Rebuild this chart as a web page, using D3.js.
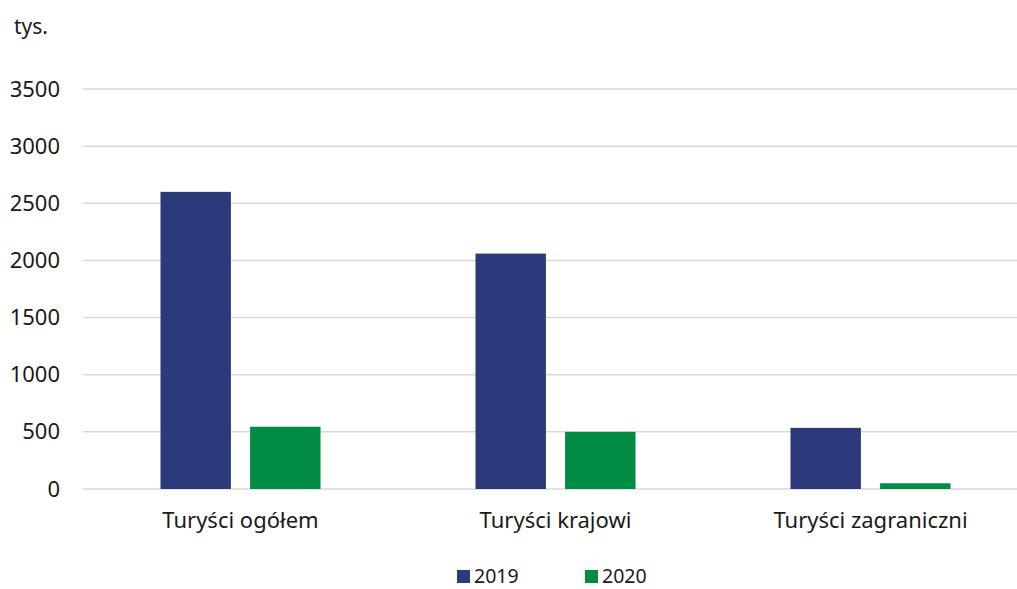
<!doctype html>
<html>
  <head>
    <meta charset="utf-8" />
    <title>Turyści 2019-2020</title>
    <script type="text/javascript" src="https://cdnjs.cloudflare.com/ajax/libs/d3/7.8.5/d3.min.js"></script>
    <style>
      body {
        margin:0;
        background:#fff;
        font-family:"Noto Sans", sans-serif;
      }
      svg text {
        fill:#1a1a1a;
      }
    </style>
  </head>
  <body>
    <div class="chart"></div>
    <script type="text/javascript">

/*chart values (thousands)*/
var categories = ["Turyści ogółem", "Turyści krajowi", "Turyści zagraniczni"];
var years = ["2019", "2020"];
var values_2019 = [2600, 2060, 535];
var values_2020 = [545, 500, 50];
var y_ticks = [0, 500, 1000, 1500, 2000, 2500, 3000, 3500];
var unit_label = "tys.";

var colors = {"2019": "#2c397b", "2020": "#008c44"};

var width = 1017, height = 589;

var svg = d3.select(".chart").append("svg")
  .attr("width", width)
  .attr("height", height);

/*scales*/
var x = d3.scaleBand()
  .domain(categories)
  .range([83, 1028])
  .paddingInner(0.492)
  .paddingOuter(0.246);

var x_inner = d3.scaleBand()
  .domain(years)
  .range([0, x.bandwidth()])
  .paddingInner(0.214);

var y = d3.scaleLinear()
  .domain([0, 3500])
  .range([489, 89]);

/*gridlines*/
svg.append("g")
  .selectAll("line")
  .data(y_ticks)
  .join("line")
  .attr("x1", 83)
  .attr("x2", width)
  .attr("y1", function(d) { return y(d); })
  .attr("y2", function(d) { return y(d); })
  .attr("stroke", "#d9d9d9")
  .attr("stroke-width", 1.5);

/*y axis labels*/
var y_axis = d3.axisLeft(y)
  .tickValues(y_ticks)
  .tickFormat(d3.format("d"))
  .tickSize(0)
  .tickPadding(0);

svg.append("g")
  .attr("transform", "translate(60,0)")
  .call(y_axis)
  .call(function(g) { g.select(".domain").remove(); })
  .selectAll("text")
  .attr("font-family", "Noto Sans")
  .attr("font-size", 22)
  .attr("fill", "#1a1a1a");

svg.append("text")
  .attr("x", 14)
  .attr("y", 34)
  .attr("font-size", 21)
  .text(unit_label);

/*bars*/
var rows = categories.map(function(c, i) {
  return {category: c, values: [
    {year: "2019", value: values_2019[i]},
    {year: "2020", value: values_2020[i]}
  ]};
});

var groups = svg.append("g")
  .selectAll("g")
  .data(rows)
  .join("g")
  .attr("transform", function(d) { return "translate(" + x(d.category) + ",0)"; });

groups.selectAll("rect")
  .data(function(d) { return d.values; })
  .join("rect")
  .attr("x", function(d) { return x_inner(d.year); })
  .attr("width", x_inner.bandwidth())
  .attr("y", function(d) { return y(d.value); })
  .attr("height", function(d) { return y(0) - y(d.value); })
  .attr("fill", function(d) { return colors[d.year]; });

/*category labels*/
var x_axis = d3.axisBottom(x).tickSize(0).tickPadding(0);

svg.append("g")
  .attr("transform", "translate(0,512)")
  .call(x_axis)
  .call(function(g) { g.select(".domain").remove(); })
  .selectAll("text")
  .attr("dy", "0.71em")
  .attr("font-family", "Noto Sans")
  .attr("font-size", 22)
  .attr("fill", "#1a1a1a");

/*legend*/
var legend_x = [457, 585];

var legend = svg.append("g")
  .selectAll("g")
  .data(years)
  .join("g")
  .attr("transform", function(d, i) { return "translate(" + legend_x[i] + ",570)"; });

legend.append("rect")
  .attr("width", 13)
  .attr("height", 13)
  .attr("fill", function(d) { return colors[d]; });

legend.append("text")
  .attr("x", 17)
  .attr("y", 13)
  .attr("font-size", 19.5)
  .text(function(d) { return d; });

    </script>
  </body>
</html>
